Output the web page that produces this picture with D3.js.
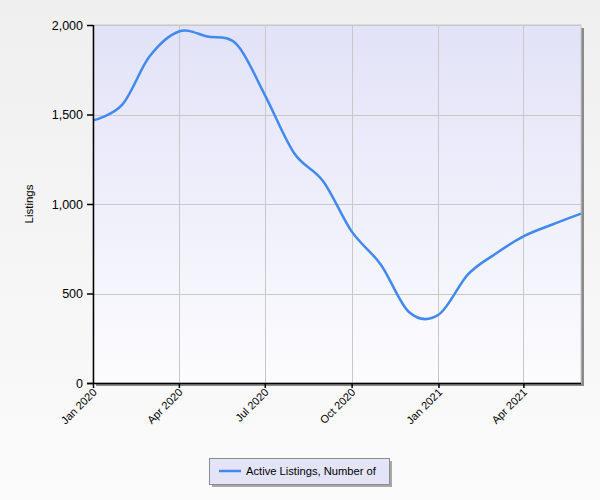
<!DOCTYPE html>
<html><head><meta charset="utf-8">
<script src="https://cdn.jsdelivr.net/npm/d3@7"></script>
<style>body{margin:0;background:#f2f2f2;} svg{display:block;}</style>
</head><body>
<svg id="c" width="600" height="500"></svg>
<script>
const months = ["2020-01-01","2020-02-01","2020-03-01","2020-04-01","2020-05-01","2020-06-01","2020-07-01","2020-08-01","2020-09-01","2020-10-01","2020-11-01","2020-12-01","2021-01-01","2021-02-01","2021-03-01","2021-04-01","2021-05-01","2021-06-01"];
const listings = [1467,1555,1825,1964,1936,1893,1610,1285,1126,847,661,395,381,605,717,819,884,946];
const yTicks = [0,500,1000,1500,2000];
const xTicks = ["2020-01-01","2020-04-01","2020-07-01","2020-10-01","2021-01-01","2021-04-01"];
const seriesName = "Active Listings, Number of";
const yTitle = "Listings";

const parse = d3.utcParse("%Y-%m-%d");
const data = months.map((m,i)=>({d:parse(m), v:listings[i]}));
const svg = d3.select("#c");
const defs = svg.append("defs");
const bg = defs.append("linearGradient").attr("id","bg").attr("x1",0).attr("y1",0).attr("x2",0).attr("y2",1);
bg.append("stop").attr("offset","0").attr("stop-color","#efefef");
bg.append("stop").attr("offset","1").attr("stop-color","#fbfbfb");
const pg = defs.append("linearGradient").attr("id","pg").attr("x1",0).attr("y1",0).attr("x2",0).attr("y2",1);
pg.append("stop").attr("offset","0").attr("stop-color","#e2e2f8");
pg.append("stop").attr("offset","1").attr("stop-color","#fcfcfe");

svg.append("rect").attr("width",600).attr("height",500).attr("fill","url(#bg)");

const L=93, R=581, T=25, B=383;
const x = d3.scaleUtc().domain([parse(months[0]), parse(months[months.length-1])]).range([L,R]);
const y = d3.scaleLinear().domain([0,2000]).range([B,T]);

// shadow
svg.append("rect").attr("x",L+3).attr("y",T+3).attr("width",R-L).attr("height",B-T).attr("fill","#8a8a8a");
svg.append("rect").attr("x",L).attr("y",T).attr("width",R-L).attr("height",B-T).attr("fill","url(#pg)").attr("stroke","#c8c8c8").attr("stroke-width",1);

// grid
const g = svg.append("g");
g.selectAll("line.h").data(yTicks.filter(t=>t>0)).join("line")
  .attr("x1",L).attr("x2",R).attr("y1",d=>Math.round(y(d))+0.5).attr("y2",d=>Math.round(y(d))+0.5)
  .attr("stroke","#c8c8c8");
g.selectAll("line.v").data(xTicks.slice(1)).join("line")
  .attr("y1",T).attr("y2",B).attr("x1",d=>Math.round(x(parse(d)))+0.5).attr("x2",d=>Math.round(x(parse(d)))+0.5)
  .attr("stroke","#c8c8c8");

// line
svg.append("path").datum(data)
  .attr("d", d3.line().x(d=>x(d.d)).y(d=>y(d.v)).curve(d3.curveCardinal.tension(0)))
  .attr("fill","none").attr("stroke","#4189ef").attr("stroke-width",2.5);

// axes
const yAxis = svg.append("g").attr("transform",`translate(${L},0)`)
  .call(d3.axisLeft(y).tickValues(yTicks).tickFormat(d3.format(",")).tickSize(6).tickPadding(4));
const xAxis = svg.append("g").attr("transform",`translate(0,${B})`)
  .call(d3.axisBottom(x).tickValues(xTicks.map(parse)).tickFormat(d3.utcFormat("%b %Y")).tickSize(5));
[yAxis,xAxis].forEach(a=>{
  a.select(".domain").attr("stroke","#000").attr("stroke-width",1.5);
  a.selectAll(".tick line").attr("stroke","#000").attr("stroke-width",1.5);
  a.selectAll("text").attr("fill","#000").style("font-family","'Liberation Sans', Arial, sans-serif");
});
yAxis.select(".domain").attr("d",`M0.5,${T}V${B}`);
xAxis.select(".domain").attr("d",`M${L-6},0.5H${R}`);
yAxis.selectAll("text").style("font-size","12.5px").attr("dy","0.35em");
xAxis.selectAll("text").style("font-size","11px")
  .attr("text-anchor","end").attr("dy","0").attr("y",0)
  .attr("transform","translate(4,10) rotate(-45)");

svg.append("text").text(yTitle).attr("transform","translate(33,204) rotate(-90)")
  .attr("text-anchor","middle").style("font-family","'Liberation Sans', Arial, sans-serif").style("font-size","11.5px");

// legend
const lg = svg.append("g");
lg.append("rect").attr("x",212).attr("y",461).attr("width",180).attr("height",26).attr("fill","#a8a8a8");
lg.append("rect").attr("x",209.5).attr("y",458.5).attr("width",180).attr("height",26).attr("fill","#e4e4f8").attr("stroke","#8c8c8c");
lg.append("line").attr("x1",219).attr("x2",241).attr("y1",471).attr("y2",471).attr("stroke","#4189ef").attr("stroke-width",2.5);
lg.append("text").text(seriesName).attr("x",246).attr("y",475)
  .style("font-family","'Liberation Sans', Arial, sans-serif").style("font-size","11.2px");
</script>
</body></html>
